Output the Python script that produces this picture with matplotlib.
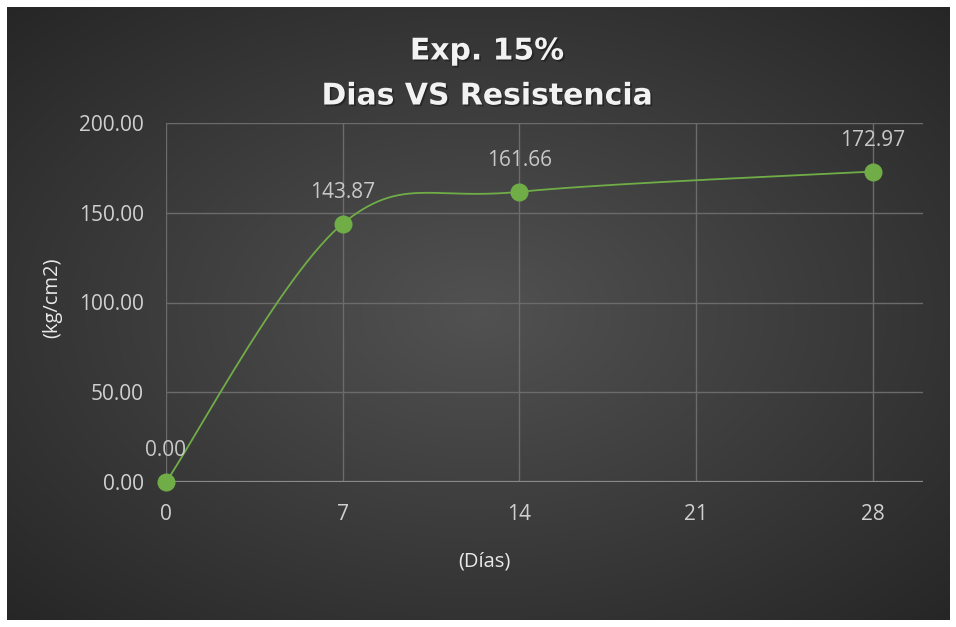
import numpy as np
import matplotlib
matplotlib.use("Agg")
import matplotlib.pyplot as plt
import matplotlib.patheffects as pe

# data
dias = [0, 7, 14, 28]
resistencia = [0.00, 143.87, 161.66, 172.97]
etiquetas = ["0.00", "143.87", "161.66", "172.97"]
xticks = [0, 7, 14, 21, 28]
yticks = [0, 50, 100, 150, 200]

plt.rcParams['font.family'] = ['Open Sans', 'DejaVu Sans']

fig = plt.figure(figsize=(9.56, 6.27), dpi=100)
fig.patch.set_facecolor('white')

# radial gradient background inside a thin white border
bg = fig.add_axes([7/956, 7/627, 942/956, 613/627])
gx, gy = np.meshgrid(np.linspace(-1, 1, 400), np.linspace(-1, 1, 300))
r = np.sqrt(gx**2 + gy**2) / np.sqrt(2)
val = 0.32 - 0.17 * r
bg.imshow(np.dstack([val, val, val]), aspect='auto', extent=[0, 1, 0, 1])
bg.set_axis_off()

ax = fig.add_axes([166/956, 1 - 482/627, (923 - 166)/956, (482 - 123)/627])
ax.set_facecolor('none')
ax.set_xlim(0, 30)
ax.set_ylim(0, 200)

# Excel style smoothing (Catmull-Rom bezier in screen-proportional space)
sx = (923 - 166) / 30.0
sy = (482 - 123) / 200.0
P = np.array([[x * sx, y * sy] for x, y in zip(dias, resistencia)])
Pe = np.vstack([P[0], P, P[-1]])
curve = []
for i in range(len(P) - 1):
    p0, p1, p2, p3 = Pe[i], Pe[i + 1], Pe[i + 2], Pe[i + 3]
    c1 = p1 + (p2 - p0) / 6.0
    c2 = p2 - (p3 - p1) / 6.0
    t = np.linspace(0, 1, 60)[:, None]
    seg = (1 - t)**3 * p1 + 3 * (1 - t)**2 * t * c1 + 3 * (1 - t) * t**2 * c2 + t**3 * p2
    curve.append(seg)
curve = np.vstack(curve)
ax.plot(curve[:, 0] / sx, curve[:, 1] / sy, color='#70ad47', lw=1.3, zorder=3)
ax.plot(dias, resistencia, 'o', color='#70ad47', ms=12, zorder=4, clip_on=False)

for x, y, s in zip(dias, resistencia, etiquetas):
    ax.annotate(s, (x, y), xytext=(0, 15), textcoords='offset points',
                ha='center', va='bottom', color='#c8c8c8', fontsize=15)

# grid
for y in yticks[1:]:
    ax.axhline(y, color='#6b6b6b', lw=1, zorder=1)
for x in xticks:
    ax.axvline(x, color='#6b6b6b', lw=1, zorder=1)
for s in ax.spines.values():
    s.set_visible(False)
ax.axhline(0, color='#8a8a8a', lw=1.6, zorder=2)

ax.set_xticks(xticks)
ax.set_xticklabels([str(x) for x in xticks])
ax.set_yticks(yticks)
ax.set_yticklabels(["%.2f" % y for y in yticks])
ax.tick_params(length=0, colors='#d0d0d0', labelsize=15)
ax.tick_params(axis='x', pad=16)
ax.tick_params(axis='y', pad=16)

fig.text(484/956, 1 - 562/627, '(Días)', ha='center', va='center',
         color='#e8e8e8', fontsize=14.5)
fig.text(52/956, 1 - 298/627, '(kg/cm2)', ha='center', va='center',
         rotation=90, color='#e8e8e8', fontsize=14.5)

shadow = [pe.withSimplePatchShadow(offset=(1.2, -1.2), shadow_rgbFace='black', alpha=0.35)]
fig.text(487/956, 1 - 51/627, 'Exp. 15%', ha='center', va='center', color='#f2f2f2',
         fontsize=21.5, fontweight='bold', family='DejaVu Sans', path_effects=shadow)
fig.text(487/956, 1 - 96/627, 'Dias VS Resistencia', ha='center', va='center', color='#f2f2f2',
         fontsize=21.5, fontweight='bold', family='DejaVu Sans', path_effects=shadow)

fig.savefig('out.png', dpi=100, facecolor=fig.get_facecolor())
